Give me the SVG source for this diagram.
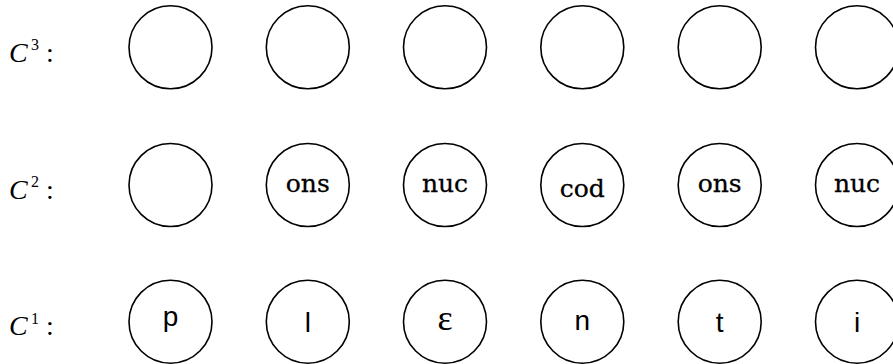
<svg xmlns="http://www.w3.org/2000/svg" width="893" height="364" viewBox="0 0 893 364">
<style>
.c{fill:none;stroke:#000;stroke-width:1.6}
.lab{font-family:"Liberation Serif",serif;font-size:28px;fill:#000}
.it{font-style:italic}
.sup{font-size:16px}
.tt{font-family:"DejaVu Serif",serif;font-size:25px;fill:#000;stroke:#000;stroke-width:0.3;text-anchor:middle}
.sf{font-family:"Liberation Sans",sans-serif;font-size:28px;fill:#000;text-anchor:middle}
.eps{font-family:"Liberation Serif",serif;font-size:36px;fill:#000;text-anchor:middle}
</style>
<defs><circle id="n" r="41.5" class="c"/></defs>
<g id="labels">
<text class="lab" y="61.5"><tspan class="it" x="9">C</tspan><tspan class="sup" x="31" y="50">3</tspan><tspan x="46" y="61.5">:</tspan></text>
<text class="lab" y="198.5"><tspan class="it" x="9">C</tspan><tspan class="sup" x="31" y="187">2</tspan><tspan x="46" y="198.5">:</tspan></text>
<text class="lab" y="335"><tspan class="it" x="9">C</tspan><tspan class="sup" x="31" y="323.5">1</tspan><tspan x="46" y="335">:</tspan></text>
</g>
<g id="row3">
<g id="c3_1"><use href="#n" x="170.5" y="47.3"/></g>
<g id="c3_2"><use href="#n" x="307.8" y="47.3"/></g>
<g id="c3_3"><use href="#n" x="445" y="47.3"/></g>
<g id="c3_4"><use href="#n" x="582.3" y="47.3"/></g>
<g id="c3_5"><use href="#n" x="719.7" y="47.3"/></g>
<g id="c3_6"><use href="#n" x="857" y="47.3"/></g>
</g>
<g id="row2">
<g id="c2_1"><use href="#n" x="170.5" y="185"/></g>
<g id="c2_2"><use href="#n" x="307.8" y="185"/><text class="tt" x="307.8" y="192">ons</text></g>
<g id="c2_3"><use href="#n" x="445" y="185"/><text class="tt" x="445" y="192">nuc</text></g>
<g id="c2_4"><use href="#n" x="582.3" y="185"/><text class="tt" x="582.3" y="197">cod</text></g>
<g id="c2_5"><use href="#n" x="719.7" y="185"/><text class="tt" x="719.7" y="192">ons</text></g>
<g id="c2_6"><use href="#n" x="857" y="185"/><text class="tt" x="857" y="192">nuc</text></g>
</g>
<g id="row1">
<g id="c1_1"><use href="#n" x="170.5" y="321.7"/><text class="sf" x="170.5" y="326">p</text></g>
<g id="c1_2"><use href="#n" x="307.8" y="321.7"/><text class="sf" x="307.8" y="331.7">l</text></g>
<g id="c1_3"><use href="#n" x="445" y="321.7"/><text class="eps" x="445" y="330">ε</text></g>
<g id="c1_4"><use href="#n" x="582.3" y="321.7"/><text class="sf" x="582.3" y="330">n</text></g>
<g id="c1_5"><use href="#n" x="719.7" y="321.7"/><text class="sf" x="719.7" y="331.7">t</text></g>
<g id="c1_6"><use href="#n" x="857" y="321.7"/><text class="sf" x="857" y="331.7">i</text></g>
</g>
<g id="connectors"/>
</svg>
